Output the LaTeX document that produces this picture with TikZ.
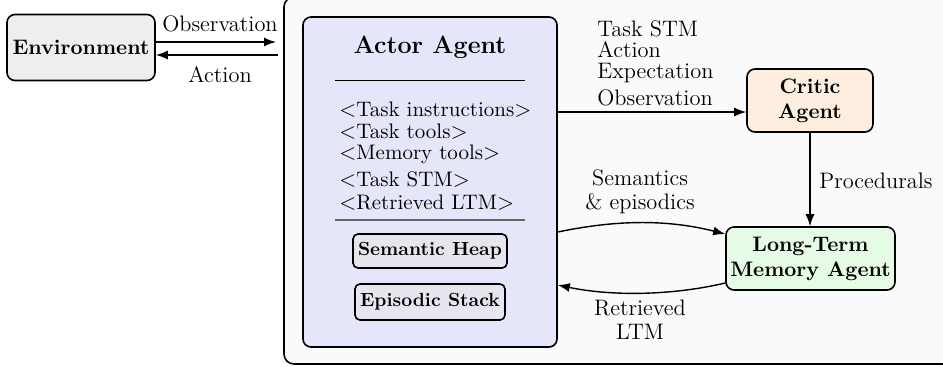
\documentclass[tikz,border=0pt]{standalone}
\usetikzlibrary{arrows.meta}
\definecolor{outerbg}{HTML}{FAFAFA}
\definecolor{envfill}{HTML}{EEEEEE}
\definecolor{actorfill}{HTML}{E6E6FA}
\definecolor{memfill}{HTML}{E6E6EF}
\definecolor{criticfill}{HTML}{FDEEDF}
\definecolor{ltmfill}{HTML}{E6FBE6}
\tikzset{
  box/.style={draw, line width=0.8pt, rounded corners=4pt, align=center, font=\fontsize{10.5}{12.5}\selectfont\bfseries, inner sep=0pt},
  lbl/.style={font=\fontsize{11.2}{12}\selectfont, inner sep=0pt},
  inlbl/.style={font=\fontsize{10.5}{12}\selectfont, inner sep=0pt, anchor=west},
  arr/.style={line width=0.7pt, -{Latex[length=6pt,width=4.5pt]}},
}
\begin{document}
\begin{tikzpicture}[x=0.5pt,y=-0.5pt]
\useasboundingbox (0,0) rectangle (943,366);
\fill[white] (0,0) rectangle (943,366);
% outer container
\draw[line width=0.8pt, fill=outerbg, rounded corners=5pt] (284,-3) rectangle (960,364);
% environment
\node[box, fill=envfill, minimum width=74pt, minimum height=33pt] (env) at (81,47.5) {Environment};
% actor
\node[box, fill=actorfill, minimum width=127pt, minimum height=165pt] (actor) at (430,182) {};
\node[lbl, font=\fontsize{12.5}{14}\selectfont\bfseries] (atitle) at (430,47) {Actor Agent};
\draw[line width=0.5pt] (335,80) -- (525,80);
\node[inlbl] (l1) at (339,110) {$<$Task instructions$>$};
\node[inlbl] (l2) at (339,132) {$<$Task tools$>$};
\node[inlbl] (l3) at (339,154) {$<$Memory tools$>$};
\node[inlbl] (l4) at (339,180) {$<$Task STM$>$};
\node[inlbl] (l5) at (339,203) {$<$Retrieved LTM$>$};
\draw[line width=0.6pt, black!60] (335,220) -- (525,220);
\node[box, fill=memfill, rounded corners=2.5pt, minimum width=77pt, minimum height=17pt, font=\fontsize{9.5}{11}\selectfont\bfseries] (heap) at (430,251) {Semantic Heap};
\node[box, fill=memfill, rounded corners=2.5pt, minimum width=75pt, minimum height=18pt, font=\fontsize{9.5}{11}\selectfont\bfseries] (stack) at (430,302) {Episodic Stack};
% critic
\node[box, fill=criticfill, minimum width=63pt, minimum height=31.5pt] (critic) at (810,100.5) {Critic\\Agent};
% ltm
\node[box, fill=ltmfill, minimum width=84.5pt, minimum height=31.5pt] (ltm) at (810.5,258.5) {Long-Term\\Memory Agent};
% env arrows
\draw[arr] (env.east |- 0,42) -- (276,42) coordinate (obsend);
\draw[arr] (278,55) coordinate (actstart) -- (env.east |- 0,55);
\node[lbl] (obs) at (220,24) {Observation};
\node[lbl] (act) at (220,75) {Action};
% actor -> critic
\draw[arr] (actor.east |- 0,112) -- (critic.west |- 0,112);
\node[lbl, anchor=north west, align=left, font=\fontsize{11.2}{10.6}\selectfont] (cl) at (597,20) {Task STM\\Action\\Expectation};
\node[lbl, anchor=west] (c4) at (597,98) {Observation};
% critic -> ltm
\draw[arr] (critic.south) -- (ltm.north -| critic.south);
\node[lbl, anchor=west] (proc) at (819,181) {Procedurals};
% semantics
\draw[arr] (actor.east |- 0,232) .. controls (620,219) and (670,220) .. (ltm.west |- 0,234);
\node[lbl, align=center] (sem) at (640,192) {Semantics\\\& episodics};
% retrieved
\draw[arr] (ltm.west |- 0,283) .. controls (670,296) and (610,296) .. (actor.east |- 0,285);
\node[lbl, align=center] (ret) at (640,320) {Retrieved\\LTM};
\end{tikzpicture}
\end{document}
